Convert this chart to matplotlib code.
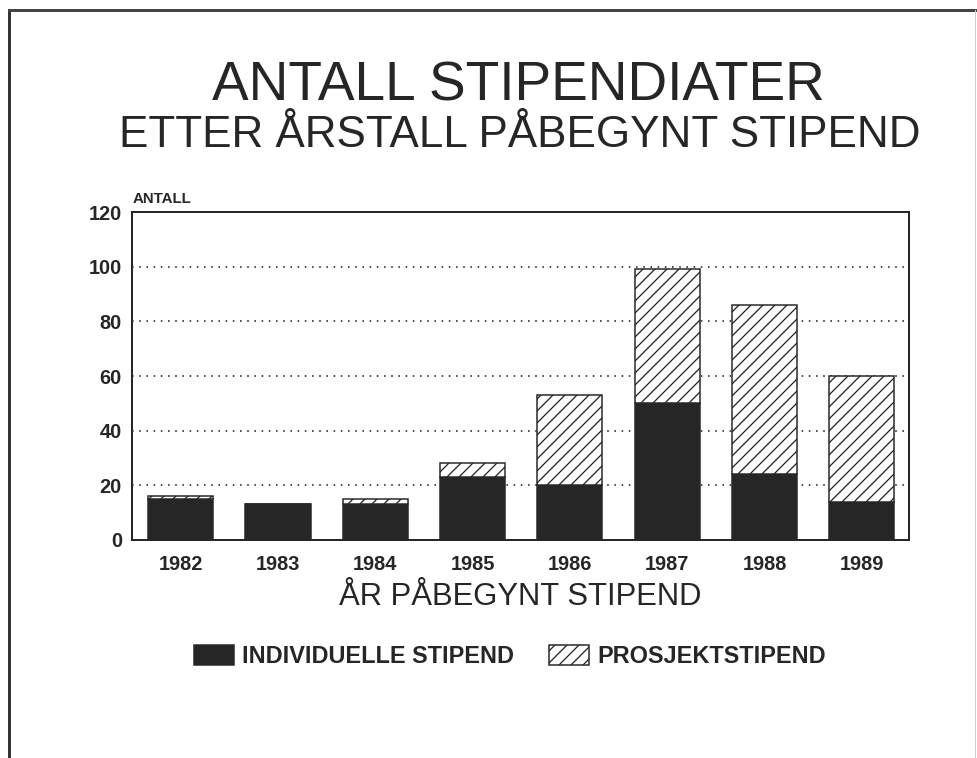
import matplotlib
matplotlib.use("Agg")
import matplotlib.pyplot as plt
from matplotlib.lines import Line2D

# data
years = ["1982", "1983", "1984", "1985", "1986", "1987", "1988", "1989"]
individuelle = [15, 13, 13, 23, 20, 50, 24, 14]
prosjekt = [1, 0, 2, 5, 33, 49, 62, 46]
yticks = [0, 20, 40, 60, 80, 100, 120]

plt.rcParams['font.family'] = ['Liberation Sans', 'DejaVu Sans']
plt.rcParams['hatch.linewidth'] = 1.3
ink = '#262626'

dpi = 72
fig = plt.figure(figsize=(977 / dpi, 758 / dpi), dpi=dpi)
ax = fig.add_axes([0.135, 0.2876, 0.795, 0.4327])

x = range(len(years))
b1 = ax.bar(x, individuelle, width=0.67, color=ink, edgecolor=ink, linewidth=1.5,
            label='INDIVIDUELLE STIPEND', zorder=3)
b2 = ax.bar(x, prosjekt, width=0.67, bottom=individuelle, color='white',
            edgecolor=ink, linewidth=1.5, hatch='//', label='PROSJEKTSTIPEND', zorder=3)

ax.set_xlim(-0.5, 7.48)
ax.set_ylim(0, 120)
ax.set_yticks(yticks)
ax.set_xticks(list(x))
ax.set_xticklabels(years)
ax.tick_params(axis='both', length=0, labelsize=20, colors=ink)
ax.tick_params(axis='x', pad=15)
ax.tick_params(axis='y', pad=10)
for lab in ax.get_xticklabels() + ax.get_yticklabels():
    lab.set_fontweight('bold')

for v in yticks[1:-1]:
    ax.axhline(v, color=ink, linewidth=1.6, linestyle=(0, (1, 3.5)), zorder=1)

for s in ax.spines.values():
    s.set_color(ink)
    s.set_linewidth(2)

ax.set_xlabel('ÅR PÅBEGYNT STIPEND', fontsize=31, color=ink, labelpad=8)

fig.text(0.531, 0.868, 'ANTALL STIPENDIATER', fontsize=55, ha='center',
         va='baseline', color=ink)
fig.text(0.532, 0.806, 'ETTER ÅRSTALL PÅBEGYNT STIPEND', fontsize=44, ha='center',
         va='baseline', color=ink)
fig.text(0.136, 0.732, 'ANTALL', fontsize=15, fontweight='bold', ha='left',
         va='baseline', color=ink)

leg = fig.legend(handles=[b1, b2], loc='center', bbox_to_anchor=(0.522, 0.134),
                 ncol=2, frameon=False, fontsize=23.5, handlelength=1.7,
                 handleheight=0.95, handletextpad=0.35, columnspacing=1.5)
for t in leg.get_texts():
    t.set_fontweight('bold')
    t.set_color(ink)

# outer frame of the scanned page
fig.add_artist(Line2D([0.009, 0.009], [0, 0.987], transform=fig.transFigure,
                      color='#333333', linewidth=3))
fig.add_artist(Line2D([0.009, 1.0], [0.987, 0.987], transform=fig.transFigure,
                      color='#444444', linewidth=3))
fig.add_artist(Line2D([0.998, 0.998], [0, 0.987], transform=fig.transFigure,
                      color='#cccccc', linewidth=1))

fig.savefig('out.png', dpi=dpi)
